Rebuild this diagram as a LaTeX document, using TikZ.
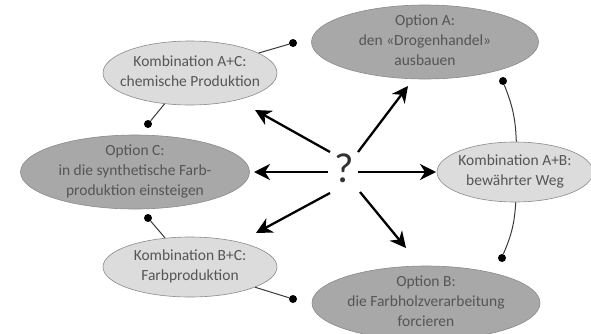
\documentclass[tikz,border=0pt]{standalone}
\usepackage{fontspec}
\setmainfont{Carlito}
\usetikzlibrary{arrows.meta,shapes.geometric}
\definecolor{optfill}{HTML}{A8A8A8}
\definecolor{kombfill}{HTML}{DCDCDC}
\definecolor{edgecol}{HTML}{8A8A8A}
\definecolor{txtcol}{HTML}{555555}
\definecolor{linkcol}{HTML}{3A3A3A}
\newcommand\etext[1]{\makebox[0pt]{\raisebox{-3.5pt}[0pt][0pt]{\begin{tabular}{@{}c@{}}#1\end{tabular}}}}
\begin{document}
\begin{tikzpicture}[x=1pt,y=-1pt,
  bubble/.style={ellipse,draw=edgecol,line width=0.6pt,inner sep=0pt,text=txtcol,
    font=\fontsize{15.5}{20}\selectfont},
  optbox/.style={bubble,fill=optfill},
  kombbox/.style={bubble,fill=kombfill},
  dotnode/.style={circle,fill=black,inner sep=0pt,minimum size=8pt},
  link/.style={draw=linkcol,line width=1pt},
  arr/.style={line width=2.3pt,-{Stealth[length=16pt,width=16pt,inset=5pt]}}]
\useasboundingbox (0,0) rectangle (591,333);
% ellipses
\node[optbox,minimum width=227pt,minimum height=74pt] (A) at (425,42) {\etext{Option A:\\den «Drogenhandel»\\ausbauen}};
\node[optbox,minimum width=228pt,minimum height=74pt] (B) at (426,303) {\etext{Option B:\\die Farbholzverarbeitung\\forcieren}};
\node[optbox,minimum width=229pt,minimum height=74pt] (C) at (135,172) {\etext{Option C:\\in die synthetische Farb-\\produktion einsteigen}};
\node[kombbox,minimum width=174pt,minimum height=64pt] (AC) at (190,73) {\etext{Kombination A+C:\\chemische Produktion}};
\node[kombbox,minimum width=174pt,minimum height=60pt] (BC) at (190,267) {\etext{Kombination B+C:\\Farbproduktion}};
\node[kombbox,minimum width=156pt,minimum height=60pt] (AB) at (515,172) {\etext{Kombination A+B:\\bewährter Weg}};
% dots
\node[dotnode] (d1) at (293,43) {};
\node[dotnode] (d2) at (148,124) {};
\node[dotnode] (d3) at (148,218) {};
\node[dotnode] (d4) at (293,299) {};
\node[dotnode] (d5) at (503,81) {};
\node[dotnode] (d6) at (502,258) {};
% links
\draw[link] (AC) -- (d1);
\draw[link] (AC) -- (d2);
\draw[link] (BC) -- (d3);
\draw[link] (BC) -- (d4);
\draw[link] (AB) to[bend right=10] (d5);
\draw[link] (AB) to[bend left=10] (d6);
% question mark
\node[font=\fontsize{42}{42}\selectfont,text=black!80,inner sep=0pt] (q) at (344,168) {?};
\coordinate (t1) at (330,152); \coordinate (h1) at (255,110);
\coordinate (t2) at (328,172); \coordinate (h2) at (254,172);
\coordinate (t3) at (330,193); \coordinate (h3) at (256,233);
\coordinate (t4) at (358,152); \coordinate (h4) at (408,86);
\coordinate (t5) at (358,172); \coordinate (h5) at (436,172);
\coordinate (t6) at (360,192); \coordinate (h6) at (406,248);
\draw[arr] (t1) -- (h1);
\draw[arr] (t2) -- (h2);
\draw[arr] (t3) -- (h3);
\draw[arr] (t4) -- (h4);
\draw[arr] (t5) -- (h5);
\draw[arr] (t6) -- (h6);
\end{tikzpicture}
\end{document}
